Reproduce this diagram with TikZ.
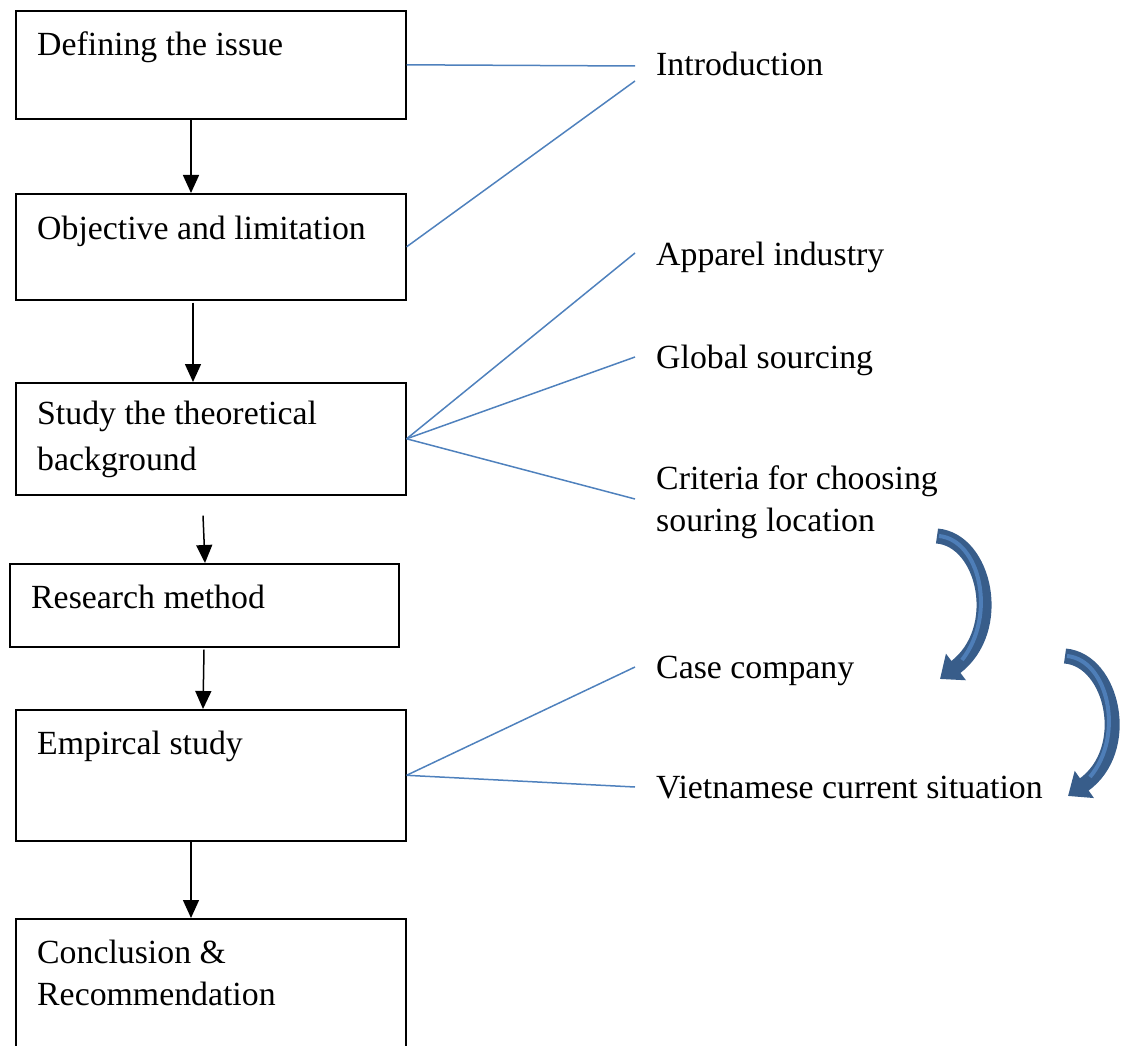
\documentclass[tikz,border=0pt]{standalone}
\usepackage{fontspec}
\setmainfont{Liberation Serif}
\usetikzlibrary{arrows.meta,calc}

\definecolor{linkblue}{RGB}{79,129,189}
\definecolor{bendedge}{RGB}{56,93,138}
\definecolor{bendfill}{RGB}{78,126,184}

\tikzset{
  stepbox/.style={draw=black, line width=1.6pt, fill=white, anchor=north west, inner sep=0pt},
  txt/.style={font=\fontsize{33.8pt}{42pt}\selectfont, inner sep=0pt, anchor=base west},
  flow/.style={draw=black, line width=1.5pt, -{Triangle[length=18pt,width=16pt]}},
  link/.style={draw=linkblue, line width=1.5pt},
  bendout/.style={draw=bendedge, line width=15pt, line cap=butt,
    -{Triangle[length=20pt,width=32pt]}},
  bendin/.style={draw=bendfill, line width=4pt, line cap=butt},
}

\begin{document}
\begin{tikzpicture}[x=1pt,y=-1pt]
\useasboundingbox (0,0) rectangle (1125,1046);

% process boxes
\node[stepbox, minimum width=390pt, minimum height=108pt] (b1) at (15,10) {};
\node[stepbox, minimum width=390pt, minimum height=106pt] (b2) at (15,193) {};
\node[stepbox, minimum width=390pt, minimum height=112pt] (b3) at (15,382) {};
\node[stepbox, minimum width=389pt, minimum height=83pt]  (b4) at (9,563) {};
\node[stepbox, minimum width=390pt, minimum height=131pt] (b5) at (15,709) {};
\node[stepbox, minimum width=390pt, minimum height=160pt] (b6) at (15,918) {};

% box texts
\node[txt] (t1) at (37,56) {Defining the issue};
\node[txt] (t2) at (37,239) {Objective and limitation};
\node[txt] (t3) at (37,424) {Study the theoretical};
\node[txt] (t3b) at (37,470) {background};
\node[txt] (t4) at (31,608) {Research method};
\node[txt] (t5) at (37,754) {Empircal study};
\node[txt] (t6) at (37,963) {Conclusion \&};
\node[txt] (t6b) at (37,1005) {Recommendation};

% right-hand labels
\node[txt] (intro) at (656,76) {Introduction};
\node[txt] (app) at (656,265) {Apparel industry};
\node[txt] (glob) at (656,368) {Global sourcing};
\node[txt] (crit) at (656,489) {Criteria for choosing};
\node[txt] (crit2) at (656,531) {souring location};
\node[txt] (case) at (656,678) {Case company};
\node[txt] (viet) at (656,798) {Vietnamese current situation};

% flow arrows
\draw[flow] ([xshift=176pt]b1.south west) -- ([xshift=176pt]b2.north west);
\draw[flow] ([xshift=178pt,yshift=-2pt]b2.south west) -- ([xshift=178pt]b3.north west);
\draw[flow] ([xshift=188pt,yshift=-20pt]b3.south west) -- ([xshift=196pt]b4.north west);
\draw[flow] ([xshift=195pt,yshift=-2pt]b4.south west) -- ([xshift=188pt]b5.north west);
\draw[flow] ([xshift=176pt]b5.south west) -- ([xshift=176pt]b6.north west);

% links to chapter topics
\draw[link] (b1.east) -- ($(intro.base west)+(-21,-10)$);
\draw[link] (b2.east) -- ($(intro.base west)+(-21,5)$);
\draw[link] (b3.east) -- ($(app.base west)+(-21,-12)$);
\draw[link] (b3.east) -- ($(glob.base west)+(-21,-11)$);
\draw[link] (b3.east) -- ($(crit.base west)+(-21,10)$);
\draw[link] (b5.east) -- ($(case.base west)+(-21,-11)$);
\draw[link] (b5.east) -- ($(viet.base west)+(-21,-11)$);

% curved transition arrows
\draw[bendout] (937,536) .. controls (985,540) and (1005,630) .. (940,679);
\draw[bendin] (939,536) .. controls (980,540) and (997,615) .. (962,660);
\draw[bendout] (1065,656) .. controls (1113,660) and (1133,750) .. (1068,796);
\draw[bendin] (1067,656) .. controls (1108,660) and (1125,735) .. (1090,777);
\end{tikzpicture}
\end{document}
